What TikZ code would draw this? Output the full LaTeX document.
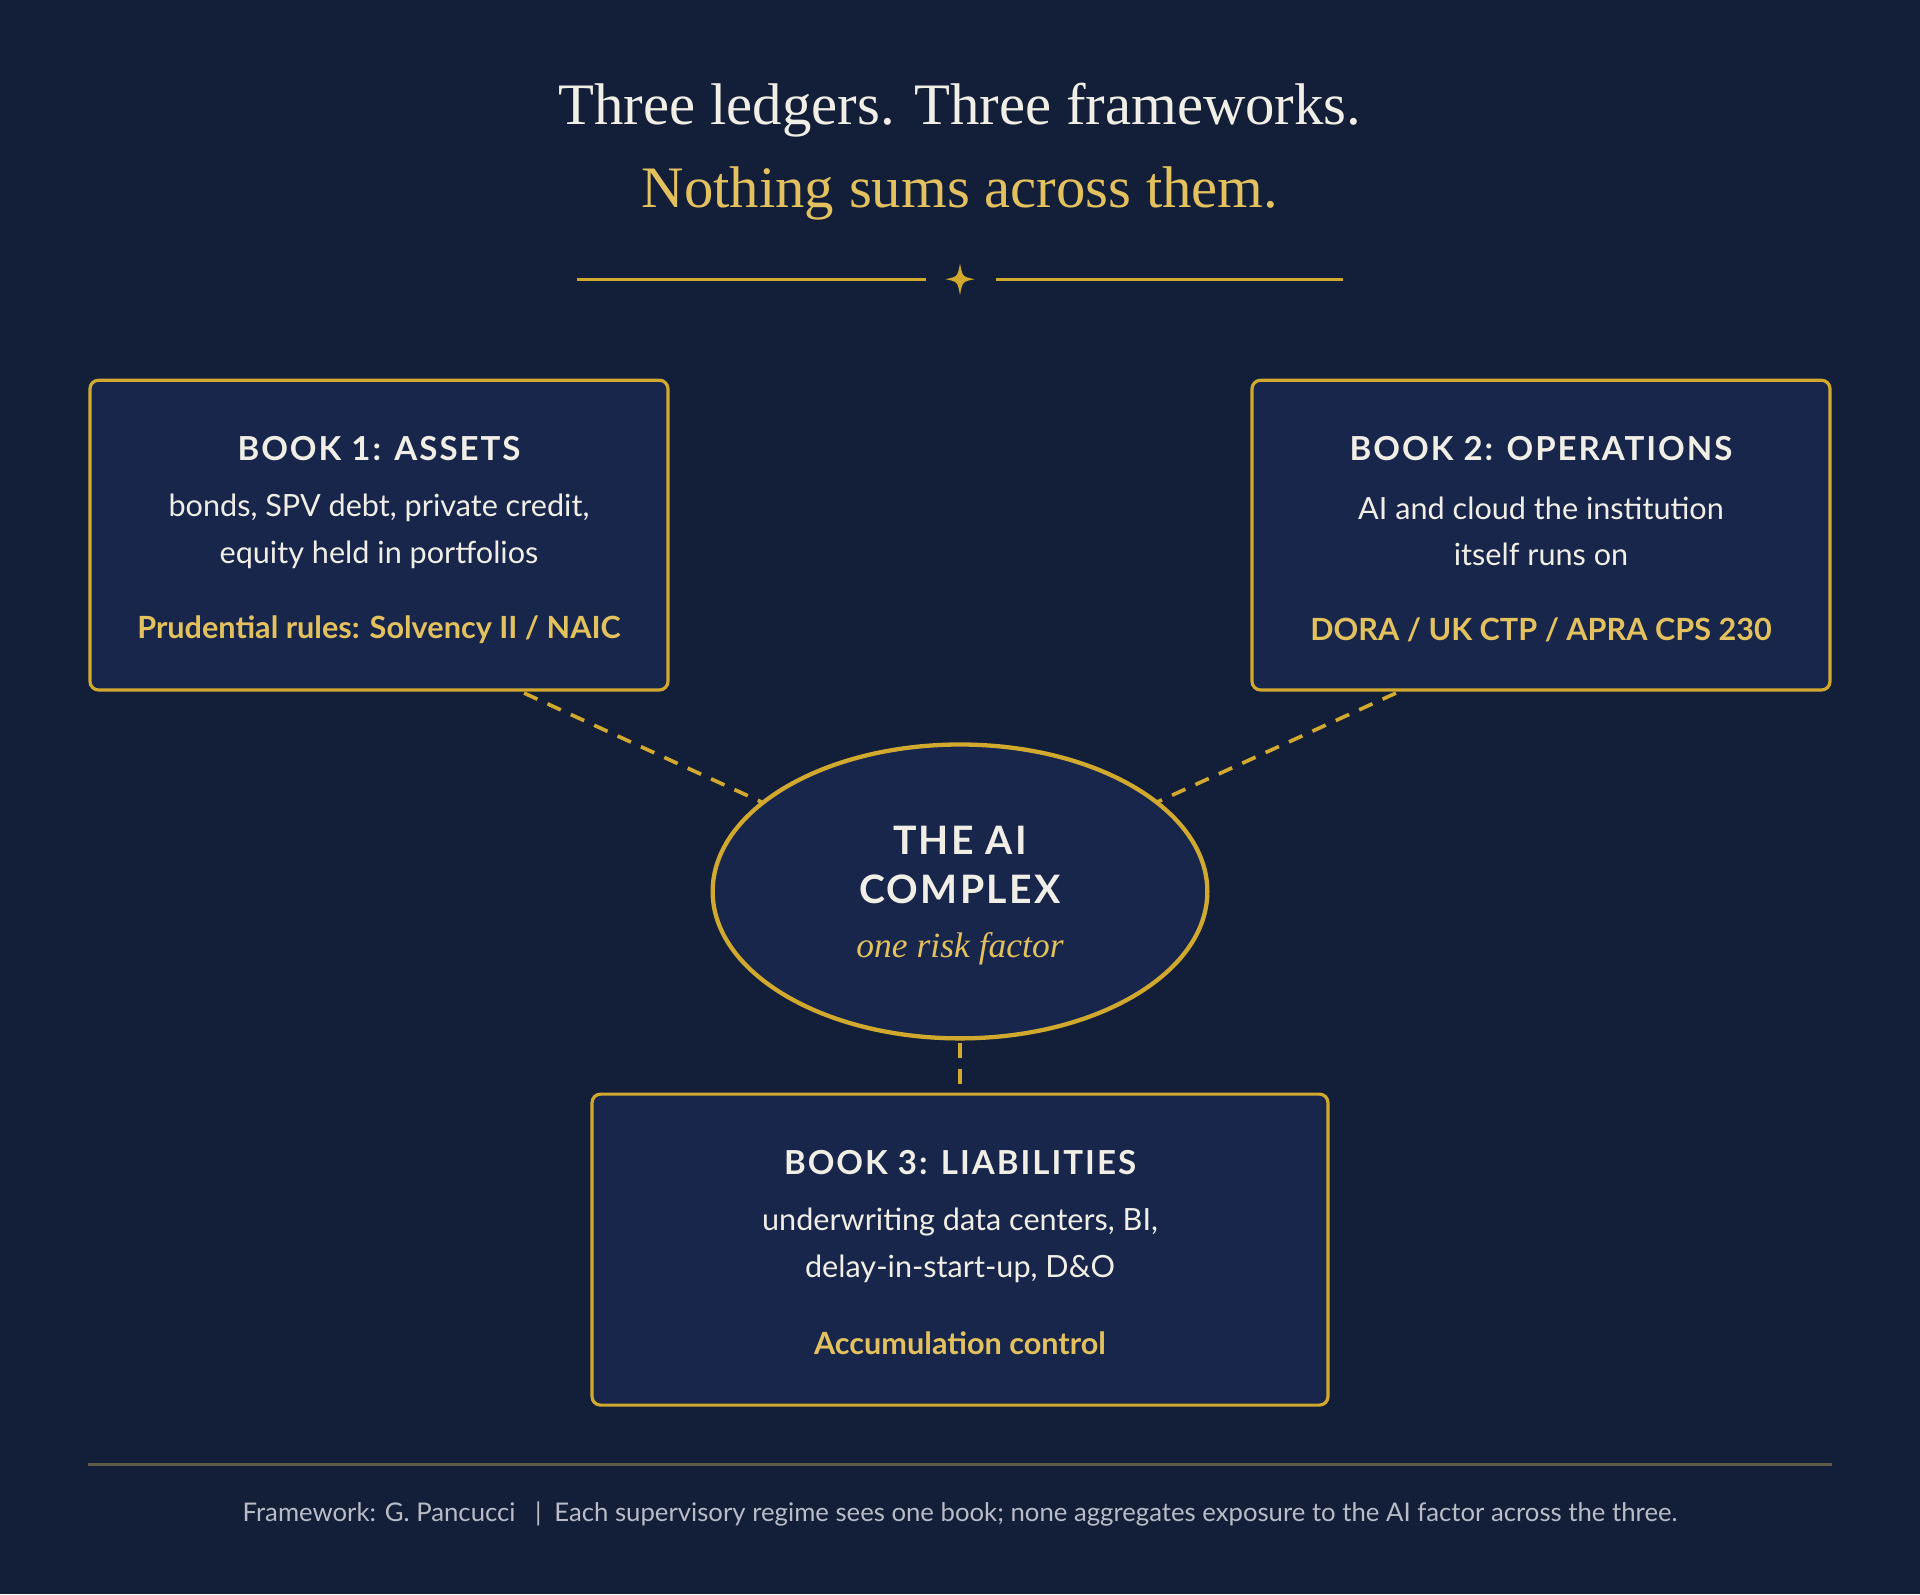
\documentclass[tikz,border=0pt]{standalone}
\usetikzlibrary{shapes.geometric}
\usepackage{fontspec}
\setmainfont{Liberation Serif}
\setsansfont{Lato}
\begin{document}
\begin{tikzpicture}[x=1pt,y=-1pt,
  box/.style={draw=gold,line width=2.6pt,fill=boxc,rounded corners=7pt,minimum width=472pt,minimum height=253pt},
  head/.style={text=txt,font=\sffamily\bfseries\fontsize{27}{30}\selectfont\addfontfeatures{LetterSpace=6}},
  body/.style={text=txt,font=\sffamily\fontsize{25}{38}\selectfont,align=center},
  goldt/.style={text=goldtxt,font=\sffamily\bfseries\fontsize{25}{30}\selectfont},
  conn/.style={draw=gold,line width=3pt,dash pattern=on 12pt off 9pt}]
\definecolor{bgc}{HTML}{131E38}
\definecolor{boxc}{HTML}{17264A}
\definecolor{gold}{HTML}{D1A92E}
\definecolor{goldtxt}{HTML}{E3C15E}
\definecolor{txt}{HTML}{F1EEE6}
\definecolor{foot}{HTML}{B9BCC6}
\definecolor{rule}{HTML}{5E5A48}
\fill[bgc] (0,0) rectangle (1568,1302);
\useasboundingbox (0,0) rectangle (1568,1302);
% title
\node[text=txt,font=\fontsize{48}{50}\selectfont] (t1) at (784,90) {Three ledgers. Three frameworks.};
\node[text=goldtxt,font=\fontsize{48}{50}\selectfont] (t2) at (784,158) {Nothing sums across them.};
\coordinate (s1) at (471,228); \coordinate (s2) at (756,228);
\coordinate (s3) at (813,228); \coordinate (s4) at (1097,228);
\draw[gold,line width=2.5pt] (s1) -- (s2) (s3) -- (s4);
\fill[gold] (784,215) .. controls (786,226) .. (796,228) .. controls (786,230) .. (784,241) .. controls (782,230) .. (772,228) .. controls (782,226) .. (784,215) -- cycle;
% boxes
\node[box] (b1) at (309.5,437) {};
\node[box] (b2) at (1258.5,437) {};
\node[box,minimum width=601pt,minimum height=254pt] (b3) at (784,1020.5) {};
\node[draw=gold,line width=3.5pt,fill=boxc,ellipse,minimum width=404pt,minimum height=240pt] (ell) at (784,728) {};
% connectors
\coordinate (c1) at (428,566); \coordinate (e1) at (622,655);
\coordinate (c2) at (1140,566); \coordinate (e2) at (945,655);
\coordinate (e3) at (784,852);
\draw[conn] (c1) -- (e1);
\draw[conn] (c2) -- (e2);
\draw[conn] (e3) -- (b3.north);
% box texts
\node[head] (h1) at (309.5,366) {BOOK 1: ASSETS};
\node[body] (d1) at (309.5,434) {bonds, SPV debt, private credit,\\equity held in portfolios};
\node[goldt] (g1) at (309.5,514) {Prudential rules: Solvency II / NAIC};
\node[head] (h2) at (1258.5,366) {BOOK 2: OPERATIONS};
\node[body] (d2) at (1258.5,434) {AI and cloud the institution\\itself runs on};
\node[goldt] (g2) at (1258.5,514) {DORA / UK CTP / APRA CPS 230};
\node[head] (h3) at (784,949) {BOOK 3: LIABILITIES};
\node[body] (d3) at (784,1017) {underwriting data centers, BI,\\delay-in-start-up, D\&O};
\node[goldt] (g3) at (784,1097) {Accumulation control};
% ellipse text
\node[text=txt,font=\sffamily\bfseries\fontsize{32}{40}\selectfont\addfontfeatures{LetterSpace=6},align=center] (et) at (784,706) {THE AI\\COMPLEX};
\node[text=goldtxt,font=\itshape\fontsize{29}{30}\selectfont] (ei) at (784,775) {one risk factor};
% footer
\coordinate (f1) at (72,1196); \coordinate (f2) at (1496,1196);
\draw[rule,line width=2pt] (f1) -- (f2);
\node[text=foot,font=\sffamily\fontsize{21}{24}\selectfont] (ft) at (784,1236) {Framework: G. Pancucci \enspace|\enspace Each supervisory regime sees one book; none aggregates exposure to the AI factor across the three.};
\end{tikzpicture}
\end{document}
